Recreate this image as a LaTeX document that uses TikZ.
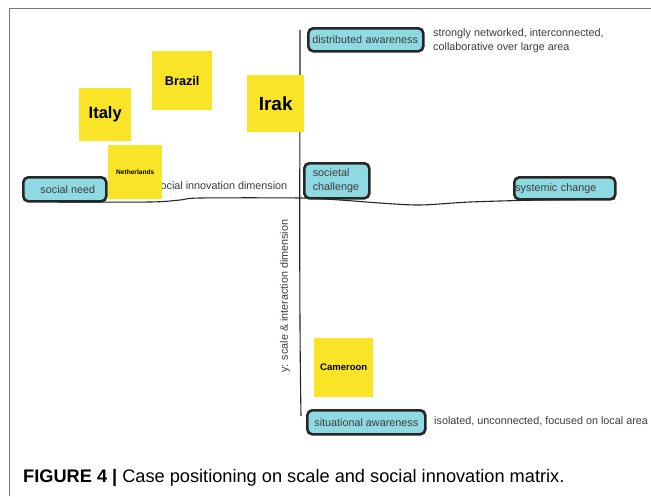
\documentclass[tikz,border=0pt]{standalone}
\usepackage{fontspec}
\setmainfont{Liberation Sans}
\usetikzlibrary{calc}
\definecolor{boxfill}{RGB}{143,218,226}
\definecolor{sticky}{RGB}{250,228,40}
\definecolor{txtgray}{RGB}{60,60,60}
\definecolor{framegray}{RGB}{120,120,120}
\tikzset{
  tagbox/.style={draw=black!85, line width=2.6pt, rounded corners=5pt, fill=boxfill,
    text=txtgray, font=\fontsize{10.8}{12}\selectfont, inner sep=0pt, anchor=north west},
  note/.style={fill=sticky, inner sep=0pt, anchor=north west, font=\bfseries},
  plain/.style={text=txtgray, font=\fontsize{10.8}{14.5}\selectfont, inner sep=0pt, align=left},
  axisline/.style={line width=1.1pt, black!85}
}
\begin{document}
\begin{tikzpicture}[x=1pt,y=-1pt]
\useasboundingbox (0,0) rectangle (651,496);
\fill[white] (0,0) rectangle (651,496);
% frame
\draw[framegray, line width=1pt] (9,496) -- (9,8) -- (651,8);
% axes
\coordinate (ytop) at (300,30);
\coordinate (ybot) at (301,416);
\draw[axisline] (ytop) .. controls (300,150) and (299,300) .. (ybot);
\draw[axisline] plot[smooth, tension=0.5] coordinates {(58,202) (150,202) (180,200) (200,198) (300,198) (340,200) (380,203) (420,205) (470,202) (540,200) (615,199)};
% axis labels
\node[plain, anchor=west] (xlabel) at (155,186) {social innovation dimension};
\node[plain, rotate=90] (ylabel) at (285,296) {y: scale \& interaction dimension};
% stickies
\node[note, minimum width=60pt, minimum height=59pt, font=\bfseries\fontsize{12.7}{14}\selectfont] (brazil) at (152,51) {Brazil};
\node[note, minimum width=52pt, minimum height=53pt, font=\bfseries\fontsize{16.5}{18}\selectfont] (italy) at (79,88) {Italy};
\node[note, minimum width=57pt, minimum height=57pt, font=\bfseries\fontsize{19}{21}\selectfont] (irak) at (247,75) {Irak};
\node[note, minimum width=54pt, minimum height=54pt, font=\bfseries\fontsize{6.6}{8}\selectfont] (neth) at (108,145) {Netherlands};
\node[note, minimum width=59pt, minimum height=59pt, font=\bfseries\fontsize{9.5}{11}\selectfont] (cam) at (314,338) {Cameroon};
% tag boxes
\node[tagbox, minimum width=115pt, minimum height=23pt, text width=111pt, align=left] (dist) at (307,27) {\hspace{2pt}distributed awareness};
\node[tagbox, minimum width=83pt, minimum height=24pt, align=center] (need) at (22,176) {\hspace{6pt}social need};
\node[tagbox, minimum width=65pt, minimum height=35pt, text width=58pt, align=left, font=\fontsize{10.8}{14.5}\selectfont] (soc) at (303,162) {\hspace{5pt}societal\\\hspace{5pt}challenge};
\node[tagbox, minimum width=101pt, minimum height=22pt, text width=99pt, align=left] (sys) at (513,176) {systemic change};
\node[tagbox, minimum width=118pt, minimum height=24pt, align=center] (sit) at (306,409) {situational awareness};
% descriptions
\node[plain, anchor=north west] (strong) at (433,28) {strongly networked, interconnected,\\collaborative over large area};
\node[plain, anchor=west] (iso) at (434,421) {isolated, unconnected, focused on local area};
% caption
\node[anchor=west, inner sep=0pt, font=\fontsize{18.2}{20}\selectfont] (cap) at (23,478) {\textbf{FIGURE 4 |} Case positioning on scale and social innovation matrix.};
\end{tikzpicture}
\end{document}
